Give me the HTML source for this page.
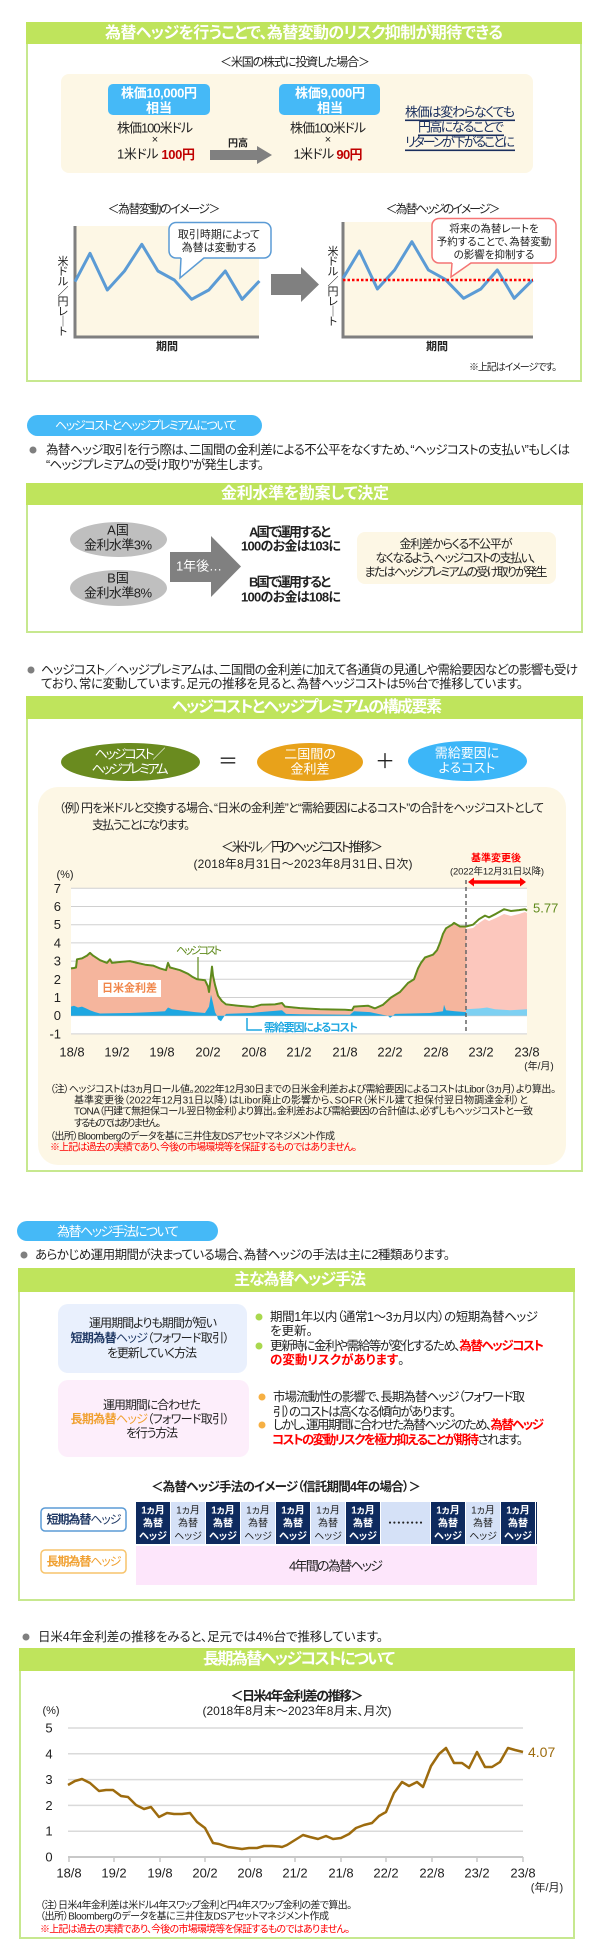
<!DOCTYPE html>
<html><head><meta charset="utf-8">
<style>
html,body{margin:0;padding:0;background:#fff;}
svg{display:block;}
text{font-family:"Liberation Sans","Noto Sans CJK JP",sans-serif;font-feature-settings:"palt";dominant-baseline:central;fill:#222;}
.c{text-anchor:middle;}
.e{text-anchor:end;}
.b{font-weight:bold;}
.w{fill:#fff;}
.r{fill:#ff0000;}
</style></head><body>
<svg width="600" height="1956" viewBox="0 0 600 1956">
<!-- ========== SECTION 1 ========== -->
<rect x="27" y="23" width="554" height="358" fill="#fff" stroke="#c7e88f" stroke-width="2"/>
<rect x="26" y="22" width="556" height="22" fill="#bfe45c"/>
<text x="304" y="33.5" class="c b w" font-size="16" textLength="398">為替ヘッジを行うことで、為替変動のリスク抑制が期待できる</text>
<text x="295" y="62" class="c" font-size="12" textLength="150">＜米国の株式に投資した場合＞</text>
<rect x="61" y="74" width="472" height="99" rx="8" fill="#fdf7e5"/>
<rect x="108" y="84" width="102" height="31" rx="5" fill="#45b9f7"/>
<text x="159" y="93" class="c b w" font-size="13" textLength="76">株価10,000円</text>
<text x="159" y="108" class="c b w" font-size="13">相当</text>
<text x="155" y="128" class="c" font-size="13" textLength="76">株価100米ドル</text>
<text x="155" y="140" class="c" font-size="11">×</text>
<text x="156" y="154" class="c" font-size="13" textLength="78">1米ドル <tspan fill="#c00000" font-weight="bold">100円</tspan></text>
<polygon points="210,150 257,150 257,146 272,155 257,164 257,160 210,160" fill="#808080"/>
<text x="238" y="144" class="c b" font-size="10">円高</text>
<rect x="279" y="84" width="101" height="31" rx="5" fill="#45b9f7"/>
<text x="330" y="93" class="c b w" font-size="13" textLength="70">株価9,000円</text>
<text x="330" y="108" class="c b w" font-size="13">相当</text>
<text x="328" y="128" class="c" font-size="13" textLength="76">株価100米ドル</text>
<text x="328" y="140" class="c" font-size="11">×</text>
<text x="328" y="154" class="c" font-size="13" textLength="69">1米ドル <tspan fill="#c00000" font-weight="bold">90円</tspan></text>
<text x="460" y="112" class="c" font-size="13" style="fill:#1a2f5e" textLength="110">株価は変わらなくても</text>
<text x="461" y="127" class="c" font-size="13" style="fill:#1a2f5e" textLength="86">円高になることで</text>
<text x="460" y="142" class="c" font-size="13" style="fill:#1a2f5e" textLength="110">リターンが下がることに</text>
<rect x="405" y="119.5" width="110" height="1.6" fill="#1a2f5e"/>
<rect x="418" y="134.5" width="86" height="1.6" fill="#1a2f5e"/>
<rect x="405" y="149.5" width="110" height="1.6" fill="#1a2f5e"/>

<!-- image chart 1 -->
<text x="164" y="209" class="c" font-size="12" textLength="113">＜為替変動のイメージ＞</text>
<rect x="75" y="226" width="184" height="111" fill="#fdf7e5"/>
<polyline points="75,226 75,337 259,337" fill="none" stroke="#7f7f7f" stroke-width="3"/>
<polyline points="75,281.7 90,253.3 107.3,290 124.5,271 141.8,244.3 157.9,271 174.3,280 191.6,299.3 208.8,290 225.3,271 242.1,299.3 259.4,281" fill="none" stroke="#5b9bd5" stroke-width="3" stroke-linejoin="round"/>
<g font-size="11">
<text x="63" y="262" class="c">米</text><text x="63" y="272" class="c">ド</text><text x="63" y="282" class="c">ル</text><text x="63" y="292" class="c">／</text><text x="63" y="302" class="c">円</text><text x="63" y="312" class="c">レ</text><text x="63" y="322" class="c">｜</text><text x="63" y="332" class="c">ト</text>
</g>
<text x="167" y="347" class="c b" font-size="11">期間</text>
<rect x="169" y="222.5" width="102" height="35.5" rx="7" fill="#fff" stroke="#5b9bd5" stroke-width="1.5"/>
<polygon points="181,257 180,278 204,257" fill="#fff"/>
<polyline points="181,258 180,278 204,258" fill="none" stroke="#5b9bd5" stroke-width="1.5"/>
<text x="219" y="235" class="c" font-size="11">取引時期によって</text>
<text x="219" y="248" class="c" font-size="11">為替は変動する</text>

<polygon points="271,274 301,274 301,267 319,284.5 301,302 301,295 271,295" fill="#808080"/>

<!-- image chart 2 -->
<text x="443" y="209" class="c" font-size="12" textLength="115">＜為替ヘッジのイメージ＞</text>
<rect x="343" y="222" width="190" height="115" fill="#fdf7e5"/>
<polyline points="343,222 343,337 533,337" fill="none" stroke="#7f7f7f" stroke-width="3"/>
<polyline points="343,278.3 359.4,251 377.4,289 394.6,270 411.9,241.7 428.4,270 445.2,279.3 463.6,298.3 480.8,289 497.3,270 514.2,298.3 532.6,280" fill="none" stroke="#5b9bd5" stroke-width="3" stroke-linejoin="round"/>
<line x1="343" y1="280" x2="533" y2="280" stroke="#ff0000" stroke-width="2.5" stroke-dasharray="2.5,2"/>
<g font-size="11">
<text x="333" y="252" class="c">米</text><text x="333" y="262" class="c">ド</text><text x="333" y="272" class="c">ル</text><text x="333" y="282" class="c">／</text><text x="333" y="292" class="c">円</text><text x="333" y="302" class="c">レ</text><text x="333" y="312" class="c">｜</text><text x="333" y="322" class="c">ト</text>
</g>
<text x="437" y="347" class="c b" font-size="11">期間</text>
<rect x="432" y="218.5" width="124" height="44.5" rx="7" fill="#fff" stroke="#f47474" stroke-width="1.5"/>
<polygon points="452,262 451,277 471,262" fill="#fff"/>
<polyline points="452,263 451,277 471,263" fill="none" stroke="#f47474" stroke-width="1.5"/>
<text x="494" y="229" class="c" font-size="10.5">将来の為替レートを</text>
<text x="494" y="242" class="c" font-size="10.5">予約することで、為替変動</text>
<text x="494" y="255" class="c" font-size="10.5">の影響を抑制する</text>
<text x="557" y="368" class="e" font-size="10" textLength="88">※上記はイメージです。</text>

<!-- ========== SECTION 2 ========== -->
<rect x="27" y="415" width="235" height="21" rx="10.5" fill="#45b9f7"/>
<text x="55" y="425.5" class="w" font-size="12" textLength="182">ヘッジコストとヘッジプレミアムについて</text>
<circle cx="33" cy="450" r="3.5" fill="#7f7f7f"/>
<text x="46" y="450" font-size="12.5" textLength="524">為替ヘッジ取引を行う際は、二国間の金利差による不公平をなくすため、“ヘッジコストの支払い”もしくは</text>
<text x="46" y="465" font-size="12.5" textLength="218">“ヘッジプレミアムの受け取り”が発生します。</text>

<rect x="27" y="484" width="555" height="148" fill="#fff" stroke="#c7e88f" stroke-width="2"/>
<rect x="26" y="483" width="557" height="22" fill="#bfe45c"/>
<text x="305" y="494" class="c b w" font-size="16" textLength="168">金利水準を勘案して決定</text>
<ellipse cx="118.5" cy="539.5" rx="48.5" ry="17.5" fill="#bfbfbf"/>
<ellipse cx="118.5" cy="588" rx="48.5" ry="18" fill="#bfbfbf"/>
<text x="118" y="530" class="c" font-size="13">A国</text>
<text x="118" y="545" class="c" font-size="13" textLength="68">金利水準3%</text>
<text x="118" y="578" class="c" font-size="13">B国</text>
<text x="118" y="593" class="c" font-size="13" textLength="68">金利水準8%</text>
<polygon points="170,552 211,552 211,536 241,566.5 211,597 211,582 170,582" fill="#808080"/>
<text x="199" y="566" class="c w" font-size="13" textLength="46">1年後…</text>
<text x="290" y="532" class="c b" font-size="13" textLength="82">A国で運用すると</text>
<text x="291" y="546" class="c b" font-size="13" textLength="100">100のお金は103に</text>
<text x="290" y="582" class="c b" font-size="13" textLength="82">B国で運用すると</text>
<text x="291" y="597" class="c b" font-size="13" textLength="100">100のお金は108に</text>
<rect x="357" y="532" width="199" height="52" rx="8" fill="#fdf7e5"/>
<text x="456" y="544" class="c" font-size="12" textLength="113">金利差からくる不公平が</text>
<text x="456" y="558" class="c" font-size="12" textLength="161">なくなるよう、ヘッジコストの支払い、</text>
<text x="456" y="572" class="c" font-size="12" textLength="183">またはヘッジプレミアムの受け取りが発生</text>

<circle cx="31" cy="670" r="3.5" fill="#7f7f7f"/>
<text x="41" y="670" font-size="12.5" textLength="537">ヘッジコスト／ヘッジプレミアムは、二国間の金利差に加えて各通貨の見通しや需給要因などの影響も受け</text>
<text x="41" y="684" font-size="12.5" textLength="482">ており、常に変動しています。足元の推移を見ると、為替ヘッジコストは5%台で推移しています。</text>

<!-- ========== SECTION 3 ========== -->
<rect x="27" y="697" width="555" height="474" fill="#fff" stroke="#c7e88f" stroke-width="2"/>
<rect x="26" y="696" width="557" height="23" fill="#bfe45c"/>
<text x="307" y="707.5" class="c b w" font-size="16" textLength="270">ヘッジコストとヘッジプレミアムの構成要素</text>
<ellipse cx="130.5" cy="762" rx="69.5" ry="19" fill="#6a8b1f"/>
<text x="130" y="754" class="c w" font-size="13" textLength="71">ヘッジコスト／</text>
<text x="130" y="769" class="c w" font-size="13" textLength="77">ヘッジプレミアム</text>
<text x="228" y="762" class="c" font-size="20">＝</text>
<ellipse cx="310" cy="762" rx="53" ry="19" fill="#e8a21a"/>
<text x="310" y="754" class="c w" font-size="13">二国間の</text>
<text x="310" y="769" class="c w" font-size="13">金利差</text>
<text x="385" y="762" class="c" font-size="20">＋</text>
<ellipse cx="467.5" cy="761" rx="59.5" ry="20" fill="#3cb6f8"/>
<text x="467" y="753" class="c w" font-size="13">需給要因に</text>
<text x="467" y="768" class="c w" font-size="13">よるコスト</text>

<rect x="38" y="787" width="528" height="378" rx="20" fill="#fdf7e5"/>
<text x="59" y="808" font-size="12" textLength="485">（例）円を米ドルと交換する場合、“日米の金利差”と“需給要因によるコスト”の合計をヘッジコストとして</text>
<text x="92" y="825" font-size="12" textLength="98">支払うことになります。</text>
<text x="302" y="847" class="c" font-size="13" textLength="162">＜米ドル／円のヘッジコスト推移＞</text>
<text x="303" y="864" class="c" font-size="12" textLength="219">(2018年8月31日～2023年8月31日、日次)</text>
<text x="496" y="859" class="c b r" font-size="10">基準変更後</text>
<text x="497" y="872" class="c" font-size="9.5" textLength="94">(2022年12月31日以降)</text>
<polygon points="468,882 474,877.5 474,880.3 520,880.3 520,877.5 526,882 520,886.5 520,883.7 474,883.7 474,886.5" fill="#ff0000"/>
<text x="65" y="875" class="c" font-size="11">(%)</text>

<!-- chart -->
<rect x="71" y="888" width="456" height="146" fill="#fff"/>
<g stroke="#d0d0d0" stroke-width="1">
<line x1="71" y1="888.3" x2="527" y2="888.3"/>
<line x1="71" y1="906.5" x2="527" y2="906.5"/>
<line x1="71" y1="924.7" x2="527" y2="924.7"/>
<line x1="71" y1="942.9" x2="527" y2="942.9"/>
<line x1="71" y1="961.1" x2="527" y2="961.1"/>
<line x1="71" y1="979.3" x2="527" y2="979.3"/>
<line x1="71" y1="997.5" x2="527" y2="997.5"/>
<line x1="71" y1="1015.7" x2="527" y2="1015.7"/>
<line x1="71" y1="1033.9" x2="527" y2="1033.9"/>
</g>
<polygon fill="#f5b59d" points="71,1015.7 71,969 74,969 76,968.5 77,960.3 82,959.4 87,956.6 90,953.9 93,956.6 100,961.2 107,963.9 110,960.3 112,963.9 120,963 130,962.1 137,963.9 145,965.7 153,966.6 160,969.4 166,971.2 168,963.9 170,968.5 180,971.2 188,974.8 192,977.6 197,980.3 205,981.2 208,987.6 209,993 211,976.7 212,967.6 213,976.7 215,985.8 218,997 222,1002.5 226,1005.5 238,1006.7 253,1008 261,1005.8 275,1005.4 282,1004 285,1007.6 300,1009.1 320,1010.3 345,1010.7 352,1011.2 354,1007.6 368,1006.7 375,1009.4 383,1005.8 391,998.5 400,993 408,984 414,980.3 418,969.4 421,963.9 425,958.5 433,955.7 437,951.2 440,943.9 443,934.8 446,929.3 452,925.7 454,923.9 460,927.5 466,927.5 466,1015.7"/>
<polygon fill="#fcc7bd" points="466,1015.7 466,929 473,928 479,923 485,919 489,921 496,918 504,914 511,916 519,914 525,912 527,913 527,1015.7"/>
<polygon fill="#1ea7e1" points="71,1015.7 71,1006.6 74,1005.7 78,1007.5 82,1006.6 86,1008.4 90,1010.2 95,1012.1 100,1013.5 130,1013 150,1012.1 165,1011.2 168,1007.5 172,1009.3 180,1010.2 195,1012.1 205,1013 209,1006.6 211,994.8 213,1003 215,1012.1 217,1015.7 218,1019.3 221,1021.2 224,1016.6 226,1013.9 250,1013 270,1011.2 282,1010.2 286,1013.9 300,1014.2 350,1014.8 354,1011.2 370,1012.1 378,1013.9 388,1015.7 390,1017.9 393,1015.7 395,1013.9 430,1013 443,1011.2 444,1004.8 446,1010.2 455,1011.2 466,1012.1 466,1015.7"/>
<polygon fill="#7dd0f2" points="466,1015.7 466,1009.3 480,1008.4 487,1007.5 495,1009.3 510,1010.2 527,1009.3 527,1015.7"/>
<polyline fill="none" stroke="#5f8a1c" stroke-width="2" stroke-linejoin="round" points="71,968.4 74,968 76,967.5 77,959.3 82,958.4 87,955.6 90,952.9 93,955.6 100,960.2 107,962.9 110,959.3 112,962.9 120,962 130,961.1 137,962.9 145,964.7 153,965.6 160,968.4 166,970.2 168,962.9 170,967.5 180,970.2 188,973.8 192,976.6 197,979.3 205,980.2 208,986.6 209,992 211,975.7 212,966.6 213,975.7 215,984.8 218,995.7 222,1001.1 226,1004.4 238,1005.7 253,1007 261,1004.8 275,1004.4 282,1003 285,1006.6 300,1008.1 320,1009.3 345,1009.7 352,1010.2 354,1006.6 368,1005.7 375,1008.4 383,1004.8 391,997.5 400,992 408,983 414,979.3 418,968.4 421,962.9 425,957.5 433,954.7 437,950.2 440,942.9 443,933.8 446,928.3 452,924.7 454,922.9 460,926.5 466,926.5 473,924.7 479,919.2 485,915.6 489,917.4 496,913.8 504,909.2 511,911 519,910.1 525,909.2 527,910.7"/>
<line x1="466" y1="880" x2="466" y2="1034" stroke="#666" stroke-width="1.5" stroke-dasharray="4,3"/>
<text x="199" y="951" class="c" font-size="11" style="fill:#5f8a1c" textLength="46">ヘッジコスト</text>
<line x1="198" y1="957" x2="198" y2="979" stroke="#5f8a1c" stroke-width="1.2"/>
<text x="533" y="908" font-size="13" style="fill:#5f8a1c">5.77</text>
<rect x="98" y="980" width="63" height="17" fill="#fff"/>
<text x="129.5" y="988.5" class="c b" font-size="11" style="fill:#f0864a">日米金利差</text>
<polyline points="247,1018 247,1030 262,1030" fill="none" stroke="#1ea7e1" stroke-width="1.5"/>
<text x="264" y="1028" class="b" font-size="11" style="fill:#1ea7e1" textLength="94">需給要因によるコスト</text>
<g font-size="13">
<text x="61" y="888.3" class="e">7</text>
<text x="61" y="906.5" class="e">6</text>
<text x="61" y="924.7" class="e">5</text>
<text x="61" y="942.9" class="e">4</text>
<text x="61" y="961.1" class="e">3</text>
<text x="61" y="979.3" class="e">2</text>
<text x="61" y="997.5" class="e">1</text>
<text x="61" y="1015.7" class="e">0</text>
<text x="61" y="1033.9" class="e">-1</text>
<text x="72" y="1052" class="c">18/8</text>
<text x="117" y="1052" class="c">19/2</text>
<text x="162" y="1052" class="c">19/8</text>
<text x="208" y="1052" class="c">20/2</text>
<text x="254" y="1052" class="c">20/8</text>
<text x="299" y="1052" class="c">21/2</text>
<text x="345" y="1052" class="c">21/8</text>
<text x="390" y="1052" class="c">22/2</text>
<text x="436" y="1052" class="c">22/8</text>
<text x="481" y="1052" class="c">23/2</text>
<text x="527" y="1052" class="c">23/8</text>
</g>
<text x="539" y="1067" class="c" font-size="10">(年/月)</text>
<g font-size="10">
<text x="50" y="1090" textLength="506">（注）ヘッジコストは3ヵ月ロール値。2022年12月30日までの日米金利差および需給要因によるコストはLibor（3ヵ月）より算出。</text>
<text x="74" y="1101" textLength="454">基準変更後（2022年12月31日以降）はLibor廃止の影響から、SOFR（米ドル建て担保付翌日物調達金利）と</text>
<text x="74" y="1112" textLength="459">TONA（円建て無担保コール翌日物金利）より算出。金利差および需給要因の合計値は、必ずしもヘッジコストと一致</text>
<text x="74" y="1124" textLength="87">するものではありません。</text>
<text x="50" y="1137" textLength="285">（出所）Bloombergのデータを基に三井住友DSアセットマネジメント作成</text>
<text x="50" y="1148" class="r" textLength="307">※上記は過去の実績であり、今後の市場環境等を保証するものではありません。</text>
</g>

<!-- ========== SECTION 4 ========== -->
<rect x="17" y="1221" width="201" height="20" rx="10" fill="#45b9f7"/>
<text x="57" y="1231.5" class="w" font-size="13" textLength="122">為替ヘッジ手法について</text>
<circle cx="24" cy="1255" r="3.5" fill="#7f7f7f"/>
<text x="35" y="1255" font-size="12.5" textLength="415">あらかじめ運用期間が決まっている場合、為替ヘッジの手法は主に2種類あります。</text>

<rect x="19" y="1269" width="555" height="331" fill="#fff" stroke="#c7e88f" stroke-width="2"/>
<rect x="18" y="1268" width="557" height="24" fill="#bfe45c"/>
<text x="300" y="1280" class="c b w" font-size="16" textLength="132">主な為替ヘッジ手法</text>

<rect x="58" y="1304" width="189" height="69" rx="10" fill="#e9f0fd"/>
<text x="153" y="1323" class="c" font-size="12" textLength="128">運用期間よりも期間が短い</text>
<text x="150" y="1338" class="c" font-size="12" textLength="159"><tspan font-weight="bold" style="fill:#1f3864">短期為替</tspan><tspan style="fill:#1f3864">ヘッジ</tspan>（フォワード取引）</text>
<text x="152" y="1353" class="c" font-size="12" textLength="90">を更新していく方法</text>

<rect x="58" y="1380" width="191" height="77" rx="10" fill="#fdeefb"/>
<text x="152" y="1405" class="c" font-size="12" textLength="98">運用期間に合わせた</text>
<text x="150" y="1419" class="c" font-size="12" textLength="159"><tspan font-weight="bold" style="fill:#f0a030">長期為替</tspan><tspan style="fill:#f0a030">ヘッジ</tspan>（フォワード取引）</text>
<text x="152" y="1433" class="c" font-size="12" textLength="52">を行う方法</text>

<circle cx="259" cy="1317" r="3.5" fill="#a9d84e"/>
<text x="270" y="1317" font-size="12.5" textLength="268">期間1年以内（通常1～3ヵ月以内）の短期為替ヘッジ</text>
<text x="270" y="1331" font-size="12.5">を更新。</text>
<circle cx="259" cy="1346" r="3.5" fill="#a9d84e"/>
<text x="270" y="1346" font-size="12.5" textLength="274">更新時に金利や需給等が変化するため、<tspan class="r" font-weight="bold">為替ヘッジコスト</tspan></text>
<text x="270" y="1360" font-size="12.5"><tspan class="r" font-weight="bold">の変動リスクがあります</tspan>。</text>

<circle cx="262" cy="1397" r="3.5" fill="#f6b043"/>
<text x="273" y="1397" font-size="12.5" textLength="252">市場流動性の影響で、長期為替ヘッジ（フォワード取</text>
<text x="273" y="1412" font-size="12.5" textLength="183">引）のコストは高くなる傾向があります。</text>
<circle cx="262" cy="1425" r="3.5" fill="#f6b043"/>
<text x="273" y="1425" font-size="12.5" textLength="271">しかし、運用期間に合わせた為替ヘッジのため、<tspan class="r" font-weight="bold">為替ヘッジ</tspan></text>
<text x="272" y="1440" font-size="12.5" textLength="251"><tspan class="r" font-weight="bold">コストの変動リスクを極力抑えることが期待</tspan>されます。</text>

<text x="286" y="1487" class="c b" font-size="12.5" textLength="270">＜為替ヘッジ手法のイメージ（信託期間4年の場合）＞</text>
<rect x="41" y="1508" width="85" height="23" rx="4" fill="#fff" stroke="#5b9bd5" stroke-width="1.5"/>
<text x="84" y="1519.5" class="c" font-size="12" textLength="75"><tspan font-weight="bold" style="fill:#1f3864">短期為替</tspan><tspan style="fill:#1f3864">ヘッジ</tspan></text>
<rect x="41" y="1550" width="85" height="23" rx="4" fill="#fff" stroke="#f7c46c" stroke-width="1.5"/>
<text x="84" y="1561.5" class="c" font-size="12" textLength="75"><tspan font-weight="bold" style="fill:#f0a030">長期為替</tspan><tspan style="fill:#f0a030">ヘッジ</tspan></text>

<g>
<rect x="136" y="1502" width="34" height="42" fill="#0e2a5e"/>
<rect x="171" y="1502" width="34" height="42" fill="#d5e1f7"/>
<rect x="206" y="1502" width="34" height="42" fill="#0e2a5e"/>
<rect x="241" y="1502" width="34" height="42" fill="#d5e1f7"/>
<rect x="276" y="1502" width="34" height="42" fill="#0e2a5e"/>
<rect x="311" y="1502" width="34" height="42" fill="#d5e1f7"/>
<rect x="346" y="1502" width="34" height="42" fill="#0e2a5e"/>
<rect x="381" y="1502" width="49" height="42" fill="#d5e1f7"/>
<rect x="431" y="1502" width="34" height="42" fill="#0e2a5e"/>
<rect x="466" y="1502" width="34" height="42" fill="#d5e1f7"/>
<rect x="501" y="1502" width="34" height="42" fill="#0e2a5e"/>
<rect x="536" y="1502" width="1" height="42" fill="#0e2a5e"/>
</g>
<g font-size="10">
<text x="153" y="1511" class="c b w">1ヵ月</text><text x="153" y="1524" class="c b w">為替</text><text x="153" y="1537" class="c b w">ヘッジ</text>
<text x="188" y="1511" class="c">1ヵ月</text><text x="188" y="1524" class="c">為替</text><text x="188" y="1537" class="c">ヘッジ</text>
<text x="223" y="1511" class="c b w">1ヵ月</text><text x="223" y="1524" class="c b w">為替</text><text x="223" y="1537" class="c b w">ヘッジ</text>
<text x="258" y="1511" class="c">1ヵ月</text><text x="258" y="1524" class="c">為替</text><text x="258" y="1537" class="c">ヘッジ</text>
<text x="293" y="1511" class="c b w">1ヵ月</text><text x="293" y="1524" class="c b w">為替</text><text x="293" y="1537" class="c b w">ヘッジ</text>
<text x="328" y="1511" class="c">1ヵ月</text><text x="328" y="1524" class="c">為替</text><text x="328" y="1537" class="c">ヘッジ</text>
<text x="363" y="1511" class="c b w">1ヵ月</text><text x="363" y="1524" class="c b w">為替</text><text x="363" y="1537" class="c b w">ヘッジ</text>
<text x="405.5" y="1524" class="c" font-size="10" textLength="36">・・・・・・・・</text>
<text x="448" y="1511" class="c b w">1ヵ月</text><text x="448" y="1524" class="c b w">為替</text><text x="448" y="1537" class="c b w">ヘッジ</text>
<text x="483" y="1511" class="c">1ヵ月</text><text x="483" y="1524" class="c">為替</text><text x="483" y="1537" class="c">ヘッジ</text>
<text x="518" y="1511" class="c b w">1ヵ月</text><text x="518" y="1524" class="c b w">為替</text><text x="518" y="1537" class="c b w">ヘッジ</text>
</g>
<rect x="136" y="1546" width="401" height="39" fill="#fde6fb"/>
<text x="336" y="1566" class="c" font-size="13" textLength="94">4年間の為替ヘッジ</text>

<!-- ========== SECTION 5 ========== -->
<circle cx="26" cy="1637" r="3.5" fill="#7f7f7f"/>
<text x="38" y="1637" font-size="12.5" textLength="345">日米4年金利差の推移をみると、足元では4%台で推移しています。</text>
<rect x="20" y="1649" width="554" height="289" fill="#fff" stroke="#c7e88f" stroke-width="2"/>
<rect x="19" y="1648" width="556" height="23" fill="#bfe45c"/>
<text x="299" y="1659.5" class="c b w" font-size="16" textLength="192">長期為替ヘッジコストについて</text>
<text x="297" y="1696" class="c b" font-size="13" textLength="133">＜日米4年金利差の推移＞</text>
<text x="297" y="1711" class="c" font-size="12" textLength="189">(2018年8月末～2023年8月末、月次)</text>
<text x="51" y="1711" class="c" font-size="11">(%)</text>
<g stroke="#dadada" stroke-width="1.5">
<line x1="68" y1="1728" x2="523" y2="1728"/>
<line x1="68" y1="1753.8" x2="523" y2="1753.8"/>
<line x1="68" y1="1779.6" x2="523" y2="1779.6"/>
<line x1="68" y1="1805.4" x2="523" y2="1805.4"/>
<line x1="68" y1="1831.2" x2="523" y2="1831.2"/>
</g>
<line x1="68" y1="1857" x2="523" y2="1857" stroke="#c8c8c8" stroke-width="2"/>
<g stroke="#c8c8c8" stroke-width="1.5">
<line x1="69" y1="1857" x2="69" y2="1862"/><line x1="114" y1="1857" x2="114" y2="1862"/><line x1="160" y1="1857" x2="160" y2="1862"/><line x1="205" y1="1857" x2="205" y2="1862"/><line x1="250" y1="1857" x2="250" y2="1862"/><line x1="295" y1="1857" x2="295" y2="1862"/><line x1="341" y1="1857" x2="341" y2="1862"/><line x1="386" y1="1857" x2="386" y2="1862"/><line x1="432" y1="1857" x2="432" y2="1862"/><line x1="477" y1="1857" x2="477" y2="1862"/><line x1="523" y1="1857" x2="523" y2="1862"/>
</g>
<g font-size="13">
<text x="49" y="1728" class="c">5</text>
<text x="49" y="1753.8" class="c">4</text>
<text x="49" y="1779.6" class="c">3</text>
<text x="49" y="1805.4" class="c">2</text>
<text x="49" y="1831.2" class="c">1</text>
<text x="49" y="1857" class="c">0</text>
<text x="69" y="1873" class="c">18/8</text>
<text x="114" y="1873" class="c">19/2</text>
<text x="160" y="1873" class="c">19/8</text>
<text x="205" y="1873" class="c">20/2</text>
<text x="250" y="1873" class="c">20/8</text>
<text x="295" y="1873" class="c">21/2</text>
<text x="341" y="1873" class="c">21/8</text>
<text x="386" y="1873" class="c">22/2</text>
<text x="432" y="1873" class="c">22/8</text>
<text x="477" y="1873" class="c">23/2</text>
<text x="523" y="1873" class="c">23/8</text>
</g>
<text x="547" y="1888" class="c" font-size="11">(年/月)</text>
<polyline fill="none" stroke="#9d6b0e" stroke-width="2.5" stroke-linejoin="round" points="68,1785 75,1781 82,1779 90,1783 99,1791 106,1790 113,1790 121,1796 128,1797 136,1805 144,1809 151,1807 159,1817 167,1813 174,1814 182,1814 190,1813 197,1822 205,1828 213,1843 219,1844 228,1847 235,1848 242,1849 249,1848 257,1848 264,1846 272,1846 279,1846.5 282,1847 287,1845 295,1840 303,1835 310,1837 318,1839 326,1836 333,1839 341,1838 349,1834 356,1828 364,1825 372,1823 379,1816 386,1812 394,1793 402,1782 409,1786 417,1782 423,1787 431,1766 439,1754 446,1748 454,1763 462,1763 469,1768 477,1752 485,1767 492,1767 500,1762 508,1748 515,1750 523,1752"/>
<text x="528" y="1752" font-size="14" style="fill:#9d6b0e">4.07</text>
<g font-size="10">
<text x="40" y="1906" textLength="312">（注）日米4年金利差は米ドル4年スワップ金利と円4年スワップ金利の差で算出。</text>
<text x="40" y="1917" textLength="289">（出所）Bloombergのデータを基に三井住友DSアセットマネジメント作成</text>
<text x="40" y="1930" class="r" textLength="310">※上記は過去の実績であり、今後の市場環境等を保証するものではありません。</text>
</g>
</svg>
</body></html>
